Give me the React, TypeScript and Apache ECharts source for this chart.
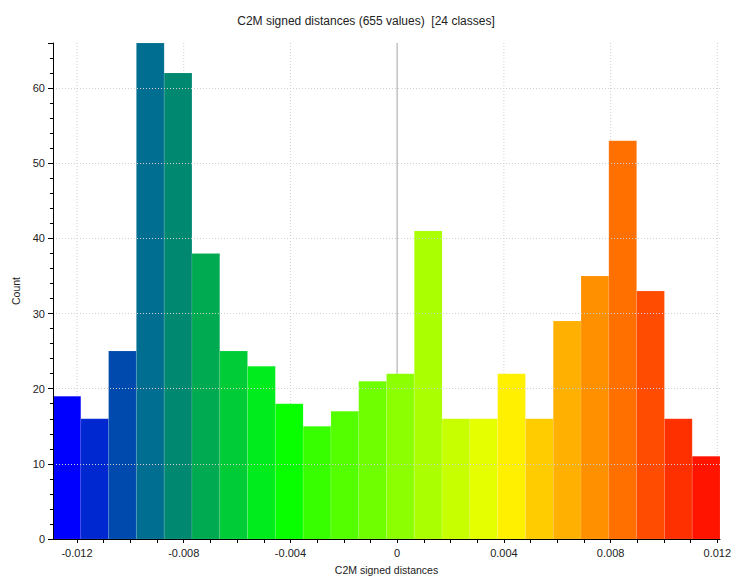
import React, { useEffect, useRef } from "react";
import * as echarts from "echarts";

// Histogram of C2M signed distances: 24 classes over [-0.0129, 0.0121]
const rangeMin = -0.0129;
const rangeMax = 0.0121;
const binCounts = [19, 16, 25, 66, 62, 38, 25, 23, 18, 15, 17, 21, 22, 41, 16, 16, 22, 16, 29, 35, 53, 33, 16, 11];
const binColors = [
  "#0000ff", "#0028d0", "#004aae", "#006e90", "#008870", "#00aa50",
  "#00cc38", "#00ec1c", "#08ff00", "#38ff00", "#54ff00", "#70ff00",
  "#8cff00", "#aaff00", "#c8ff00", "#e6ff00", "#fff000", "#ffcc00",
  "#ffb000", "#ff9000", "#ff7000", "#ff4c00", "#ff3000", "#ff1400",
];
const xTickLabels = [-0.012, -0.008, -0.004, 0, 0.004, 0.008, 0.012];
const xMinorTicks = [
  -0.012, -0.011, -0.01, -0.009, -0.008, -0.007, -0.006, -0.005, -0.004, -0.003, -0.002, -0.001,
  0, 0.001, 0.002, 0.003, 0.004, 0.005, 0.006, 0.007, 0.008, 0.009, 0.01, 0.011, 0.012,
];
const yMax = 66;

const labelFont = "'Liberation Sans', Arial, sans-serif";

export default function App() {
  const ref = useRef<HTMLDivElement>(null);

  useEffect(() => {
    if (!ref.current) return;
    const chart = echarts.init(ref.current, null, { renderer: "svg" });
    const binWidth = (rangeMax - rangeMin) / binCounts.length;
    const bins = binCounts.map((c, i) => [rangeMin + i * binWidth, rangeMin + (i + 1) * binWidth, c]);

    chart.setOption({
      animation: false,
      backgroundColor: "#ffffff",
      title: {
        text: "C2M signed distances (655 values)  [24 classes]",
        left: "center",
        top: 10,
        textStyle: { fontFamily: labelFont, fontSize: 12, fontWeight: "normal", color: "#222" },
      },
      grid: { left: 53, right: 12, top: 43, bottom: 37, containLabel: false, outerBoundsMode: "none" },
      xAxis: {
        type: "value",
        min: rangeMin,
        max: rangeMax,
        z: 10,
        name: "C2M signed distances",
        nameLocation: "middle",
        nameGap: 25,
        nameTextStyle: { fontFamily: labelFont, fontSize: 10.5, color: "#222" },
        axisLine: { show: true, onZero: false, lineStyle: { color: "#000", width: 1 } },
        axisTick: { show: true, customValues: xMinorTicks, length: 4, lineStyle: { color: "#000" } },
        axisLabel: {
          customValues: xTickLabels,
          margin: 8,
          fontFamily: labelFont,
          fontSize: 11,
          color: "#222",
          formatter: (v: number) => (Math.abs(v) < 1e-9 ? "0" : v.toFixed(3)),
        },
        splitLine: { show: false },
      },
      yAxis: {
        type: "value",
        min: 0,
        max: yMax,
        interval: 10,
        z: 10,
        name: "Count",
        nameLocation: "middle",
        nameRotate: 90,
        nameGap: 32,
        nameTextStyle: { fontFamily: labelFont, fontSize: 10.5, color: "#222" },
        axisLine: { show: true, onZero: false, lineStyle: { color: "#000", width: 1 } },
        axisTick: { show: true, length: 5, lineStyle: { color: "#000" } },
        minorTick: { show: true, splitNumber: 5, length: 3, lineStyle: { color: "#000" } },
        axisLabel: { showMaxLabel: false, margin: 8, fontFamily: labelFont, fontSize: 11, color: "#222" },
        splitLine: {
          show: true,
          showMinLine: false,
          showMaxLine: false,
          lineStyle: { color: "#d0d0d0", type: [1, 2], width: 1 },
        },
      },
      series: [
        {
          // vertical dotted grid lines at labelled x ticks
          type: "custom",
          z: 1,
          silent: true,
          data: xTickLabels.map((v) => [v]),
          encode: { x: 0 },
          renderItem: (params: any, api: any) => {
            const a = api.coord([api.value(0), 0]);
            const b = api.coord([api.value(0), yMax]);
            return {
              type: "line",
              shape: { x1: a[0], y1: a[1], x2: b[0], y2: b[1] },
              style: { stroke: "#d0d0d0", lineWidth: 1, lineDash: [1, 2] },
            };
          },
        },
        {
          // zero reference line
          type: "custom",
          z: 2,
          silent: true,
          data: [[0]],
          encode: { x: 0 },
          renderItem: (params: any, api: any) => {
            const a = api.coord([api.value(0), 0]);
            const b = api.coord([api.value(0), yMax]);
            return {
              type: "line",
              shape: { x1: a[0], y1: a[1], x2: b[0], y2: b[1] },
              style: { stroke: "#c4c4c4", lineWidth: 1.5 },
            };
          },
        },
        {
          type: "custom",
          z: 3,
          data: bins,
          encode: { x: [0, 1], y: 2 },
          renderItem: (params: any, api: any) => {
            const s = api.coord([api.value(0), 0]);
            const e = api.coord([api.value(1), api.value(2)]);
            return {
              type: "rect",
              shape: { x: s[0], y: e[1], width: e[0] - s[0], height: s[1] - e[1] },
              style: {
                fill: binColors[params.dataIndex],
                stroke: "rgba(255,255,255,0.1)",
                lineWidth: 1,
              },
            };
          },
        },
      ],
    });

    return () => chart.dispose();
  }, []);

  return <div ref={ref} style={{ position: "absolute", left: 0, top: 0, width: 732, height: 576 }} />;
}
